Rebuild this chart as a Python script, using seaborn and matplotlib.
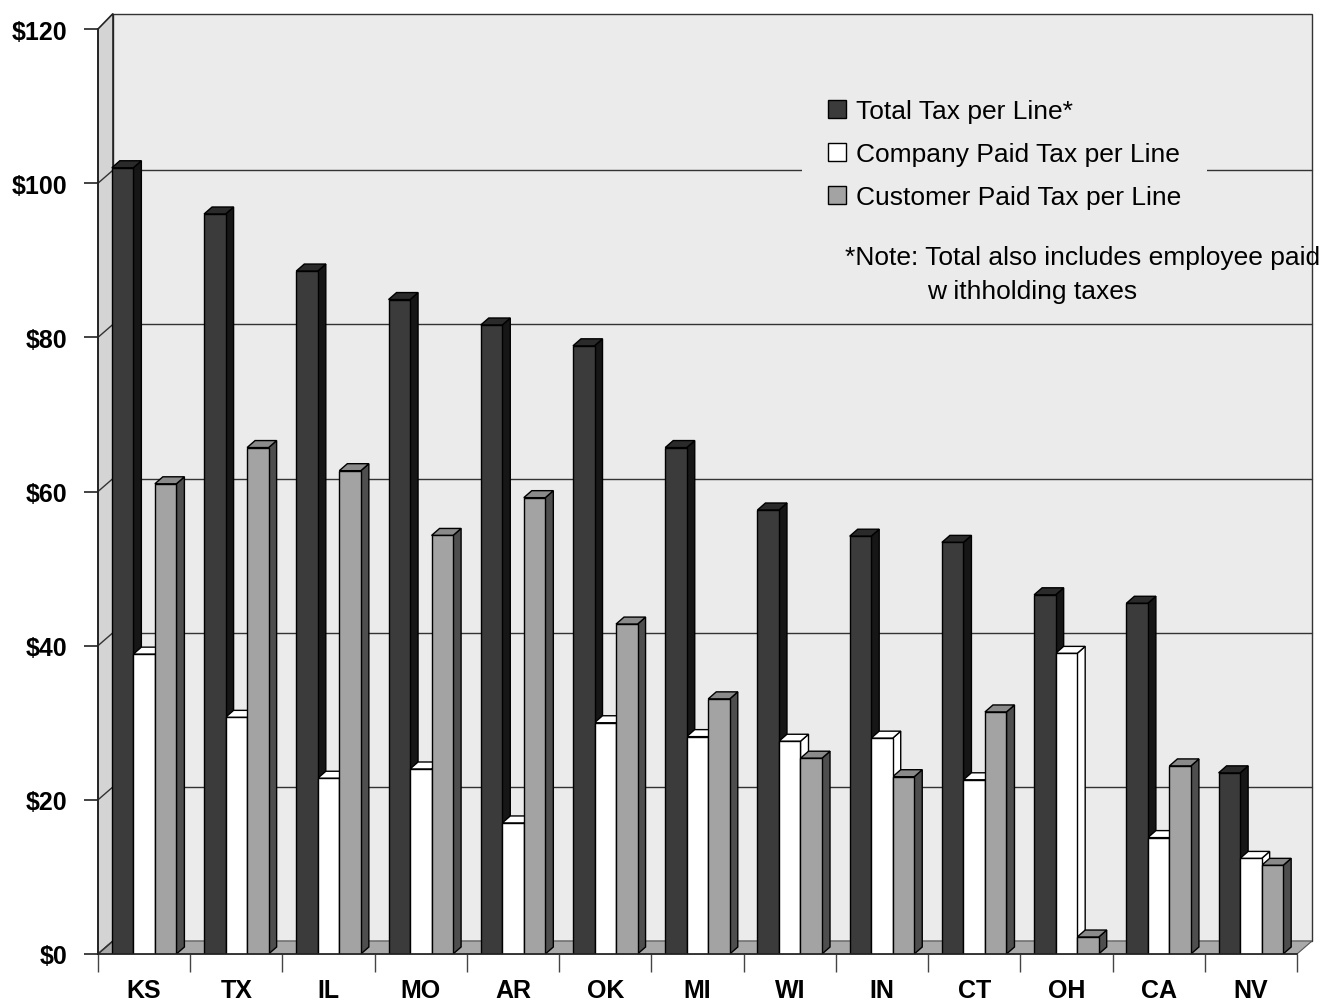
import numpy as np
import pandas as pd
import matplotlib
matplotlib.use("Agg")
import matplotlib.pyplot as plt
import seaborn as sns
from matplotlib.patches import Polygon, Patch

# ---- data -------------------------------------------------------------
states = ["KS", "TX", "IL", "MO", "AR", "OK", "MI", "WI", "IN", "CT", "OH", "CA", "NV"]
total_tax = [102.0, 96.0, 88.6, 84.9, 81.6, 78.9, 65.7, 57.6, 54.2, 53.4, 46.6, 45.5, 23.5]
company_tax = [38.9, 30.7, 22.8, 24.0, 17.0, 30.0, 28.2, 27.6, 28.0, 22.6, 39.0, 15.1, 12.4]
customer_tax = [61.0, 65.7, 62.7, 54.3, 59.2, 42.8, 33.1, 25.4, 23.0, 31.4, 2.2, 24.4, 11.5]
series_names = ["Total Tax per Line*", "Company Paid Tax per Line", "Customer Paid Tax per Line"]
y_ticks = [0, 20, 40, 60, 80, 100, 120]
y_tick_labels = ["$0", "$20", "$40", "$60", "$80", "$100", "$120"]
note_lines = ["*Note: Total also includes employee paid", "w ithholding taxes"]

df = pd.DataFrame({
    "state": states * 3,
    "series": [series_names[0]] * len(states) + [series_names[1]] * len(states)
              + [series_names[2]] * len(states),
    "value": total_tax + company_tax + customer_tax,
})

# ---- style ------------------------------------------------------------
sns.set_theme(style="white")
plt.rcParams["font.family"] = ["Liberation Sans", "DejaVu Sans"]
plt.rcParams["text.color"] = "black"
plt.rcParams["xtick.color"] = "black"
plt.rcParams["ytick.color"] = "black"
plt.rcParams["axes.labelcolor"] = "black"

front_cols = ["#3b3b3b", "#ffffff", "#a3a3a3"]
side_cols = ["#161616", "#ffffff", "#4e4e4e"]
top_cols = ["#2a2a2a", "#ffffff", "#8a8a8a"]
wall_col = "#ebebeb"
side_wall_col = "#d4d4d4"
floor_col = "#a9a9a9"

W, H = 1330, 1003
fig = plt.figure(figsize=(W / 100, H / 100), dpi=100)
fig.patch.set_facecolor("white")

# axes frame in pixels: x from 98 to 1297, value 0 at y=955, value 120 at y=30
px_x0, px_x1 = 98, 1297
px_y0 = 955
px_per_unit = (955 - 30) / 120.0
ymax = 122.0
px_ytop = px_y0 - ymax * px_per_unit
ax = fig.add_axes([px_x0 / W, (H - px_y0) / H, (px_x1 - px_x0) / W, (px_y0 - px_ytop) / H])
ax.set_facecolor("none")

n = len(states)
px_per_cat = (px_x1 - px_x0) / n

def dx(p):
    return p / px_per_cat

def dy(p):
    return p / px_per_unit

# perspective depth of the chart box and of each bar
wall_dx, wall_dy = dx(15), dy(13)
bar_dx, bar_dy = dx(8), dy(7)

sns.barplot(data=df, x="state", y="value", hue="series", palette=front_cols,
            width=0.70, gap=0, edgecolor="black", linewidth=1.0,
            saturation=1, legend=False, ax=ax, zorder=4)
ax.set_xlim(-0.5, n - 0.5)
ax.set_ylim(0, ymax)

# ---- chart box: back wall, left wall, floor, gridlines -------------------
xl, xr = -0.5, n - 0.5
back = Polygon([(xl + wall_dx, wall_dy), (xr + wall_dx, wall_dy),
                (xr + wall_dx, ymax), (xl + wall_dx, ymax)],
               closed=True, facecolor=wall_col, edgecolor="#333333", lw=1.0,
               zorder=0, clip_on=False)
ax.add_patch(back)
left_wall = Polygon([(xl, 0), (xl + wall_dx, wall_dy), (xl + wall_dx, ymax),
                     (xl, 120)], closed=True, facecolor=side_wall_col,
                    edgecolor="#222222", lw=1.2, zorder=0.5, clip_on=False)
ax.add_patch(left_wall)
floor = Polygon([(xl, 0), (xr, 0), (xr + wall_dx, wall_dy), (xl + wall_dx, wall_dy)],
                closed=True, facecolor=floor_col, edgecolor="#555555", lw=0.8,
                zorder=1, clip_on=False)
ax.add_patch(floor)

for v in y_ticks[1:-1]:
    ax.plot([xl + wall_dx, xr + wall_dx], [v + wall_dy, v + wall_dy],
            color="#333333", lw=1.0, zorder=1, clip_on=False)
    ax.plot([xl, xl + wall_dx], [v, v + wall_dy], color="#333333", lw=1.0,
            zorder=1, clip_on=False)
ax.plot([xl, xl + wall_dx], [0, wall_dy], color="#333333", lw=1.0, zorder=1, clip_on=False)

# ---- 3-D faces of each bar ------------------------------------------------
bars = [p for p in ax.patches if p not in (back, left_wall, floor)]
for i, bar in enumerate(bars):
    s = i // n
    x0 = bar.get_x()
    x1 = x0 + bar.get_width()
    h = bar.get_height()
    side = Polygon([(x1, 0), (x1 + bar_dx, bar_dy), (x1 + bar_dx, h + bar_dy), (x1, h)],
                   closed=True, facecolor=side_cols[s], edgecolor="black", lw=1.0, zorder=3)
    top = Polygon([(x0, h), (x1, h), (x1 + bar_dx, h + bar_dy), (x0 + bar_dx, h + bar_dy)],
                  closed=True, facecolor=top_cols[s], edgecolor="black", lw=1.0, zorder=3)
    ax.add_patch(side)
    ax.add_patch(top)

# ---- axes, ticks, labels --------------------------------------------------
for sp in ["top", "right"]:
    ax.spines[sp].set_visible(False)
ax.spines["left"].set_bounds(0, 120)
for sp in ["left", "bottom"]:
    ax.spines[sp].set_color("#222222")
    ax.spines[sp].set_linewidth(1.2)
    ax.spines[sp].set_zorder(5)

ax.set_yticks(y_ticks)
ax.set_yticklabels(y_tick_labels, fontsize=18, fontweight="bold", color="black")
ax.tick_params(axis="y", length=10, width=1.2, color="#222222", pad=12, left=True)

ax.set_xticks(np.arange(-0.5, n, 1.0))
ax.set_xticklabels([])
ax.set_xticks(np.arange(n), minor=True)
ax.set_xticklabels(states, minor=True, fontsize=18, fontweight="bold", color="black")
ax.tick_params(axis="x", which="major", length=13, width=1.0, color="#444444", bottom=True)
ax.tick_params(axis="x", which="minor", length=0, pad=17)
ax.set_xlabel("")
ax.set_ylabel("")

# ---- legend and note ------------------------------------------------------
handles = [Patch(facecolor=front_cols[k], edgecolor="black", lw=1.0) for k in range(3)]
leg = fig.legend(handles, series_names, loc="upper left",
                 bbox_to_anchor=(802 / W, 1 - 74 / H), fontsize=19,
                 frameon=True, handlelength=0.65, handleheight=0.65,
                 handletextpad=0.38, labelspacing=0.72, borderpad=1.0,
                 borderaxespad=0, labelcolor="black")
leg.get_frame().set_facecolor(wall_col)
leg.get_frame().set_edgecolor("none")
leg.get_frame().set_alpha(1)
leg.set_zorder(6)

fig.text(845 / W, 1 - 258 / H, note_lines[0], fontsize=19, ha="left", va="center",
         color="black")
fig.text(927 / W, 1 - 292 / H, note_lines[1], fontsize=19, ha="left", va="center",
         color="black")

fig.savefig("out.png", dpi=100, facecolor="white")
